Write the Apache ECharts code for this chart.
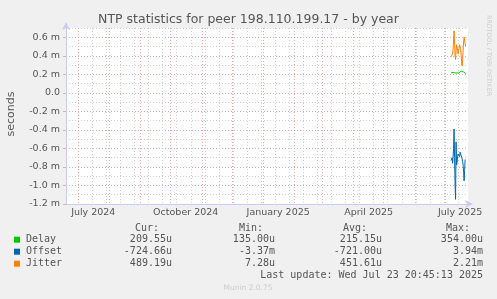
<!DOCTYPE html>
<html><head><meta charset="utf-8">
<script src="https://cdn.jsdelivr.net/npm/echarts@6/dist/echarts.min.js"></script>
<style>html,body{margin:0;padding:0;background:#f0f0f0}#c{width:497px;height:299px}</style>
</head><body><div id="c"></div>
<script>
const chartTitle = 'NTP statistics for peer 198.110.199.17 - by year';
const xMin = '2024-06-18 20:45';
const xMax = '2025-07-23 20:45';
const times = [
 '2025-07-07 00:00','2025-07-07 12:00','2025-07-08 00:00','2025-07-08 12:00','2025-07-09 00:00','2025-07-09 12:00',
 '2025-07-10 00:00','2025-07-10 12:00','2025-07-11 00:00','2025-07-11 12:00','2025-07-12 00:00','2025-07-12 12:00',
 '2025-07-13 00:00','2025-07-13 12:00','2025-07-14 00:00','2025-07-14 12:00','2025-07-15 00:00','2025-07-15 12:00',
 '2025-07-16 00:00','2025-07-16 12:00','2025-07-17 00:00','2025-07-17 12:00','2025-07-18 00:00','2025-07-18 12:00',
 '2025-07-19 00:00','2025-07-19 12:00','2025-07-20 00:00','2025-07-20 12:00','2025-07-21 00:00','2025-07-21 12:00'
];
const delay = [0.215,0.215,0.21,0.215,0.22,0.215,0.215,0.21,0.215,0.22,0.215,0.21,0.215,0.22,0.215,0.21,0.215,0.22,0.225,0.23,0.235,0.225,0.22,0.215,0.22,0.225,0.22,0.215,0.21,0.21];
const offset = [-0.73,-0.71,-0.70,-0.76,-0.70,-0.60,-0.39,-0.70,-0.98,-1.15,-0.53,-0.78,-0.75,-0.69,-0.66,-0.64,-0.68,-0.69,-0.64,-0.62,-0.64,-0.66,-0.71,-0.74,-0.78,-0.86,-0.95,-0.84,-0.72,-0.72];
const jitter = [0.39,0.39,0.40,0.42,0.47,0.56,0.67,0.55,0.40,0.36,0.45,0.52,0.50,0.46,0.42,0.44,0.48,0.52,0.54,0.48,0.42,0.34,0.29,0.36,0.46,0.55,0.60,0.57,0.53,0.50];
const yMajorTicks = [-1.2,-1.0,-0.8,-0.6,-0.4,-0.2,0,0.2,0.4,0.6];
const yMinorTicks = [-1.1,-0.9,-0.7,-0.5,-0.3,-0.1,0.1,0.3,0.5,0.7];
const monthLines = ['2024-07-01','2024-08-01','2024-09-01','2024-10-01','2024-11-01','2024-12-01','2025-01-01','2025-02-01','2025-03-01','2025-04-01','2025-05-01','2025-06-01','2025-07-01'];
const weekLines = ['2024-07-15','2024-07-29','2024-08-12','2024-08-26','2024-09-09','2024-09-23','2024-10-07','2024-10-21','2024-11-04','2024-11-18','2024-12-02','2024-12-16','2024-12-30','2025-01-13','2025-01-27','2025-02-10','2025-02-24','2025-03-10','2025-03-24','2025-04-07','2025-04-21','2025-05-05','2025-05-19','2025-06-02','2025-06-16','2025-06-30','2025-07-14'];
const xLabelDates = ['2024-07-16','2024-10-16','2025-01-16','2025-04-16','2025-07-16'];
const xLabelNames = ['July 2024','October 2024','January 2025','April 2025','July 2025'];
const legendNames = ['Delay','Offset','Jitter'];
const legendColors = ['#00cc00','#0066b3','#ff8000'];
const curVals = ['209.55u','-724.66u','489.19u'];
const minVals = ['135.00u','-3.37m','7.28u'];
const avgVals = ['215.15u','-721.00u','451.61u'];
const maxVals = ['354.00u','3.94m','2.21m'];
const lastUpdate = 'Last update: Wed Jul 23 20:45:13 2025';

function ts(s) { const p = s.split(/[- :]/).map(Number); return Date.UTC(p[0], p[1]-1, p[2], p[3]||0, p[4]||0); }
const chart = echarts.init(document.getElementById('c'));
const labelTs = xLabelDates.map(ts);
function xFmt(v) {
  let best = 0, bd = Infinity;
  labelTs.forEach((t, i) => { const dd = Math.abs(t - v); if (dd < bd) { bd = dd; best = i; } });
  return xLabelNames[best];
}
const axisColor = '#c8ccee';
const redGrid = '#eaa8a8';
const grayGrid = '#cfcfcf';
const mono = 'DejaVu Sans Mono';
const g = [];
g.push({type:'text', x:248.5, y:19.5, style:{text:chartTitle, font:'12.5px "DejaVu Sans"', fill:'#555', align:'center', verticalAlign:'middle'}});
g.push({type:'text', x:11, y:114, rotation:Math.PI/2, style:{text:'seconds', font:'11px "DejaVu Sans"', fill:'#555', align:'center', verticalAlign:'middle'}});
g.push({type:'text', x:488.5, y:15, rotation:-Math.PI/2, style:{text:'RRDTOOL / TOBI OETIKER', font:'6.3px "DejaVu Sans"', fill:'#cccccc', align:'left', verticalAlign:'middle'}});
const heads = [['Cur:',159],['Min:',263],['Avg:',367],['Max:',470]];
heads.forEach(h => g.push({type:'text', x:h[1], y:228, style:{text:h[0], font:'10px "'+mono+'"', fill:'#555', align:'right', verticalAlign:'middle'}}));
const cols = [[curVals,172],[minVals,275],[avgVals,382],[maxVals,483]];
legendNames.forEach((n, i) => {
  const y = 239.7 + i*12;
  g.push({type:'rect', shape:{x:14, y:y-3, width:6, height:6}, style:{fill:legendColors[i]}});
  g.push({type:'text', x:26, y:y, style:{text:n, font:'10px "'+mono+'"', fill:'#555', align:'left', verticalAlign:'middle'}});
  cols.forEach(c => g.push({type:'text', x:c[1], y:y, style:{text:c[0][i], font:'10px "'+mono+'"', fill:'#555', align:'right', verticalAlign:'middle'}}));
});
g.push({type:'text', x:483, y:275.5, style:{text:lastUpdate, font:'10px "'+mono+'"', fill:'#555', align:'right', verticalAlign:'middle'}});
g.push({type:'text', x:248, y:288.5, style:{text:'Munin 2.0.75', font:'7.5px "DejaVu Sans"', fill:'#cccccc', align:'center', verticalAlign:'middle'}});

function mk(name, arr, color) {
  return {name, type:'line', xAxisIndex:0, yAxisIndex:0, showSymbol:false, symbol:'none', animation:false,
    lineStyle:{width:1, color}, itemStyle:{color}, data: times.map((t, i) => [ts(t), arr[i]])};
}
chart.setOption({
  animation:false,
  backgroundColor:'#f0f0f0',
  grid:{left:66, top:28, width:402, height:176, show:true, backgroundColor:'#ffffff', borderWidth:0, containLabel:false},
  xAxis:[
    {type:'value', min:ts(xMin), max:ts(xMax), position:'bottom',
     axisLine:{show:true, onZero:false, lineStyle:{color:axisColor, width:1}, symbol:['none','arrow'], symbolSize:[6,8], symbolOffset:[0,5]},
     axisTick:{show:false, customValues:monthLines.map(ts)},
     axisLabel:{customValues:labelTs, formatter:xFmt, color:'#555', fontSize:9.5, fontFamily:'DejaVu Sans', margin:4, hideOverlap:false, showMinLabel:true, showMaxLabel:true},
     splitLine:{show:true, lineStyle:{color:redGrid, type:[1,2], width:1}}},
    {type:'value', min:ts(xMin), max:ts(xMax), position:'top',
     axisLine:{show:false}, axisTick:{show:false, customValues:weekLines.map(ts)}, axisLabel:{show:false},
     splitLine:{show:true, lineStyle:{color:grayGrid, type:[1,2], width:1}}}
  ],
  yAxis:[
    {type:'value', min:-1.2, max:0.7, position:'left',
     axisLine:{show:true, onZero:false, lineStyle:{color:axisColor, width:1}, symbol:['none','arrow'], symbolSize:[6,8], symbolOffset:[0,6]},
     axisTick:{show:true, length:3, customValues:yMajorTicks, lineStyle:{color:redGrid}},
     axisLabel:{customValues:yMajorTicks, color:'#555', fontSize:9.5, fontFamily:'DejaVu Sans', margin:6,
       formatter: v => Math.abs(v) < 1e-9 ? '0.0' : v.toFixed(1) + ' m'},
     splitLine:{show:true, lineStyle:{color:redGrid, type:[1,2], width:1}}},
    {type:'value', min:-1.2, max:0.7, position:'right',
     axisLine:{show:false}, axisTick:{show:false, customValues:yMinorTicks}, axisLabel:{show:false},
     splitLine:{show:true, lineStyle:{color:grayGrid, type:[1,2], width:1}}}
  ],
  series:[mk('Delay', delay, legendColors[0]), mk('Offset', offset, legendColors[1]), mk('Jitter', jitter, legendColors[2])],
  graphic:g
});
</script></body></html>
